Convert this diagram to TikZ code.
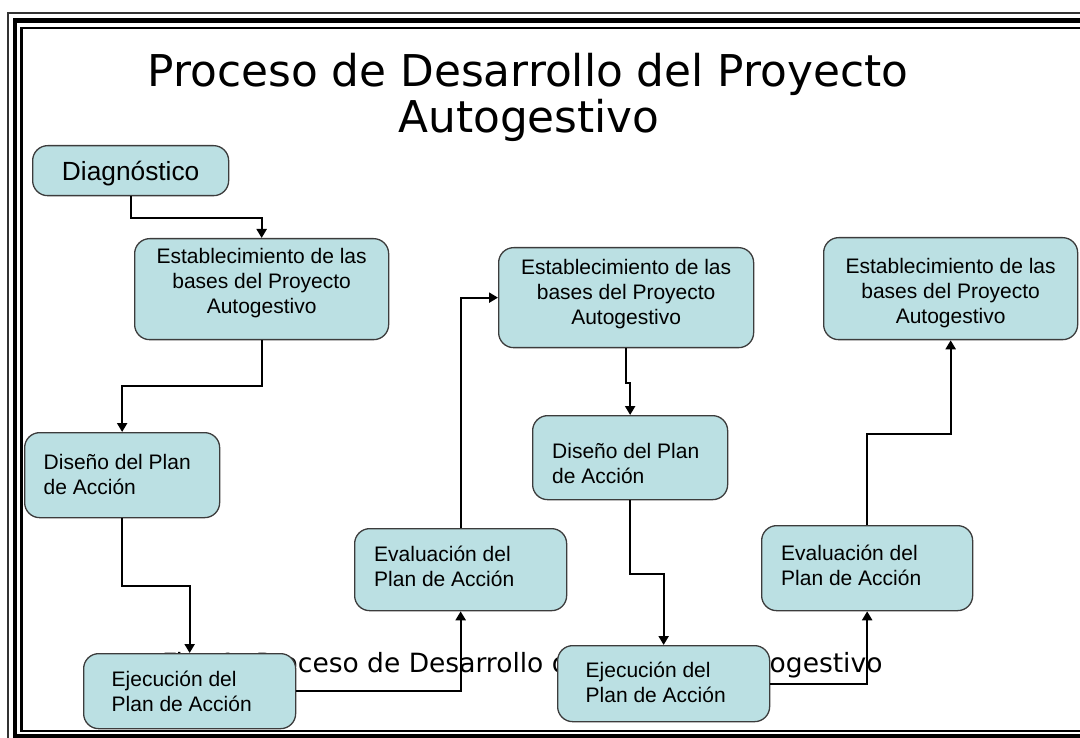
\documentclass[tikz,border=0pt]{standalone}
\usepackage{fontspec}
\setmainfont{Liberation Sans}
\newfontfamily\verdanafont{DejaVu Sans}
\usetikzlibrary{arrows.meta}
\definecolor{boxfill}{RGB}{187,224,227}
\definecolor{boxline}{RGB}{60,60,60}
\begin{document}
\begin{tikzpicture}[x=1pt,y=-1pt,
  box/.style={draw=boxline, line width=1.3pt, fill=boxfill, rounded corners=15pt, inner sep=0pt, anchor=north west},
  ctext/.style={inner sep=0pt, font=\fontsize{21}{25}\selectfont, align=center, anchor=north},
  ltext/.style={inner sep=0pt, font=\fontsize{21}{25}\selectfont, align=left, anchor=north west},
  conn/.style={line width=2.2pt, -{Triangle[width=10pt,length=9pt]}},
  ]
\useasboundingbox (0,0) rectangle (1080,738);
\begin{scope}
\clip (0,0) rectangle (1080,738);
\draw[line width=1.8pt, black!80] (8.3,13.3) rectangle (1110,760);
\draw[line width=4.5pt] (15,20.5) rectangle (1100,735.8);
\draw[line width=2.8pt] (21.7,28) rectangle (1090,731);
\end{scope}

% title
\node[font=\verdanafont\fontsize{43.8}{46}\selectfont, anchor=base, inner sep=0pt] (title1) at (528,87) {Proceso de Desarrollo del Proyecto};
\node[font=\verdanafont\fontsize{43.8}{46}\selectfont, anchor=base, inner sep=0pt] (title2) at (529,133) {Autogestivo};

% caption (partly hidden behind boxes)
\node[font=\verdanafont\fontsize{26.5}{30}\selectfont, anchor=base west, inner sep=0pt] (caption) at (162,672) {Fig. 1. Proceso de Desarrollo del Proyecto Autogestivo};

% boxes
\node[box, minimum width=196pt, minimum height=50pt, font=\fontsize{26.3}{30}\selectfont, text height=18.8pt, text depth=0pt] (diag) at (32,145) {Diagnóstico};
\node[box, minimum width=254pt, minimum height=101pt] (est1) at (134,238) {};
\node[box, minimum width=195pt, minimum height=85pt] (dis1) at (24,432) {};
\node[box, minimum width=212pt, minimum height=75pt] (ej1) at (83,653) {};
\node[box, minimum width=212pt, minimum height=82pt] (ev1) at (354,528) {};
\node[box, minimum width=255pt, minimum height=100pt] (est2) at (498,247) {};
\node[box, minimum width=195pt, minimum height=84pt] (dis2) at (532,415) {};
\node[box, minimum width=212pt, minimum height=76pt] (ej2) at (557,645) {};
\node[box, minimum width=211pt, minimum height=85pt] (ev2) at (761,525) {};
\node[box, minimum width=254pt, minimum height=102pt] (est3) at (823,237) {};

% box texts
\node[ctext] (est1t) at ([yshift=-10pt]est1.north) {Establecimiento de las\\bases del Proyecto\\Autogestivo};
\node[ctext] (est2t) at ([yshift=-12pt]est2.north) {Establecimiento de las\\bases del Proyecto\\Autogestivo};
\node[ctext] (est3t) at ([yshift=-21pt]est3.north) {Establecimiento de las\\bases del Proyecto\\Autogestivo};
\node[ltext] (dis1t) at ([xshift=19.5pt,yshift=-22pt]dis1.north west) {Diseño del Plan\\de Acción};
\node[ltext] (dis2t) at ([xshift=20pt,yshift=-28pt]dis2.north west) {Diseño del Plan\\de Acción};
\node[ltext] (ej1t) at ([xshift=28.5pt,yshift=-18pt]ej1.north west) {Ejecución del\\Plan de Acción};
\node[ltext] (ej2t) at ([xshift=28.5pt,yshift=-17pt]ej2.north west) {Ejecución del\\Plan de Acción};
\node[ltext] (ev1t) at ([xshift=20pt,yshift=-18pt]ev1.north west) {Evaluación del\\Plan de Acción};
\node[ltext] (ev2t) at ([xshift=20pt,yshift=-20pt]ev2.north west) {Evaluación del\\Plan de Acción};

% connectors
\draw[conn] (diag.south) -- ++(0,22) -| (est1.north);
\draw[conn] (est1.south) -- ++(0,46) -| (dis1.north);
\draw[conn] (dis1.south) -- ++(0,68) -| (ej1.north);
\draw[conn] (ej1.east) -| (ev1.south);
\draw[conn] (ev1.north) |- (est2.west);
\draw[conn] (est2.south) -- ++(0,35) -| (dis2.north);
\draw[conn] (dis2.south) -- ++(0,74) -| (ej2.north);
\draw[conn] (ej2.east) -| (ev2.south);
\draw[conn] (ev2.north) -- ++(0,-91) -| (est3.south);
\end{tikzpicture}
\end{document}
